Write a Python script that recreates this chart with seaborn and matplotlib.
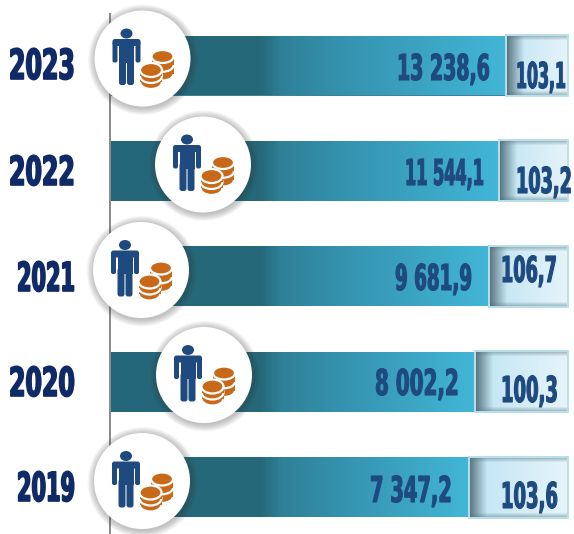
import numpy as np
import pandas as pd
import matplotlib
matplotlib.use("Agg")
import matplotlib.pyplot as plt
import seaborn as sns
from matplotlib.colors import LinearSegmentedColormap, to_rgb
from matplotlib.patches import Circle, Ellipse, Rectangle, FancyBboxPatch
from matplotlib.patheffects import AbstractPathEffect
from matplotlib.transforms import Affine2D

# ---- data ----
years = ["2023", "2022", "2021", "2020", "2019"]
values = ["13 238,6", "11 544,1", "9 681,9", "8 002,2", "7 347,2"]
ratios = ["103,1", "103,2", "106,7", "100,3", "103,6"]
# drawn bar lengths (the source graphic is not to scale with the values)
bar_lengths = [395, 388, 378, 364, 358]

# ---- layout (pixels of the 574x534 canvas) ----
W, H = 574, 534
X0 = 111
BOX_RIGHT = 568
ROW0, ROW_STEP = 65.5, 105.4
year_boxes = [(9, 75, 50, 79), (9, 75, 157, 185), (17, 75, 263, 291), (9, 75, 368, 396), (17, 75, 473, 501)]
value_boxes = [(397, 490, 55, 80), (405, 484, 160, 185), (395, 472, 265, 290), (375, 459, 370, 395), (370, 452, 477, 502)]
ratio_boxes = [(516, 566, 63, 88), (516, 572, 168, 193), (501, 557, 257, 282), (501, 558, 377, 402), (501, 558, 483, 508)]
circles = [(142.5, 58.5), (203, 164.5), (141, 270), (204, 375), (142, 481)]
R = 48
NAVY = "#0f2a66"
BLUE = "#1f4a80"
ORANGE = "#c8691a"

sns.set_theme(style="white")
plt.rcParams["font.family"] = ["Liberation Sans Narrow", "DejaVu Sans"]
fig = plt.figure(figsize=(W / 100, H / 100), dpi=100, facecolor="white")

# main bars through seaborn
ax = fig.add_axes([X0 / W, 0, (W - X0) / W, 1])
df = pd.DataFrame({"year": years, "length": bar_lengths})
bar_h = 60 / ROW_STEP
sns.barplot(data=df, y="year", x="length", order=years, orient="h",
            width=bar_h, color="#2f8aa5", ax=ax, linewidth=0)
ax.set_xlim(0, W - X0)
ax.set_ylim((H - ROW0) / ROW_STEP, -ROW0 / ROW_STEP)
ax.axis("off")

for patch, L in zip(ax.patches, bar_lengths):
    pts = [(0.0, "#25677a"), (150 / L, "#26697a"), (170 / L, "#2f8097"),
           (230 / L, "#3592ae"), (1.0, "#42b6d7")]
    cmap = LinearSegmentedColormap.from_list("g", pts)
    im = ax.imshow(np.linspace(0, 1, 256)[None, :], cmap=cmap, aspect="auto",
                   extent=(0, L, patch.get_y() + patch.get_height(), patch.get_y()), zorder=2)
    im.set_clip_path(patch)
ax.set_xlim(0, W - X0)
ax.set_ylim((H - ROW0) / ROW_STEP, -ROW0 / ROW_STEP)

# overlay in canvas pixels
ov = fig.add_axes([0, 0, 1, 1], facecolor="none", zorder=5)
ov.set_xlim(0, W)
ov.set_ylim(H, 0)
ov.axis("off")

ov.plot([110, 110], [13, H], color="#808080", lw=1.3, zorder=1, solid_capstyle="butt")


def box_image(w, h):
    x = np.linspace(0, 1, w)[None, :, None]
    a, b = np.array(to_rgb("#bfe4f3")), np.array(to_rgb("#e6f4fa"))
    img = (a * (1 - x) + b * x) * np.ones((h, w, 3))
    dark = np.array(to_rgb("#56717c"))
    xs = np.arange(w)[None, :]
    ys = np.arange(h)[:, None]
    left = np.clip(1 - xs / 18.0, 0, 1) ** 1.1
    top = 0.5 * np.clip(1 - ys / 5.0, 0, 1)
    bot = 0.5 * np.clip(1 - (h - 1 - ys) / 5.0, 0, 1)
    k = 1 - (1 - left) * (1 - top) * (1 - bot)
    return img * (1 - k[..., None]) + dark * k[..., None]


for i, L in enumerate(bar_lengths):
    left = X0 + L
    cy = ROW0 + i * ROW_STEP
    t, b = cy - 30.5, cy + 30.5
    ov.imshow(box_image(int(BOX_RIGHT - left), 61), extent=(left, BOX_RIGHT, b, t),
              aspect="auto", zorder=2, interpolation="bilinear")
    ov.add_patch(Rectangle((left, t), BOX_RIGHT - left, b - t, fc="none", ec="#b9e0ea", lw=1.4, zorder=3))
ov.set_xlim(0, W)
ov.set_ylim(H, 0)


def rounded(x, y, w, h, z, r=1.5):
    ov.add_patch(FancyBboxPatch((x + r, y + r), w - 2 * r, h - 2 * r, boxstyle=f"round,pad={r},rounding_size={r}",
                                fc=BLUE, ec="none", zorder=z))


def person(cx, cy, z):
    rounded(cx - 30, cy - 19.5, 28, 7, z, 2.5)      # shoulders
    rounded(cx - 30, cy - 17, 5, 21, z, 2)          # arms
    rounded(cx - 7, cy - 17, 5, 21, z, 2)
    ov.add_patch(Rectangle((cx - 23.5, cy - 19), 15, 23, fc=BLUE, ec="none", zorder=z))  # torso
    rounded(cx - 23.5, cy - 2, 7, 28.5, z, 2.5)     # legs
    rounded(cx - 15.5, cy - 2, 7, 28.5, z, 2.5)
    ov.add_patch(Ellipse((cx - 16, cy - 25), 12, 10, fc=BLUE, ec="none", zorder=z))


def coins(cx, top, bottom, rx, ry, z):
    n = 3
    ys = np.linspace(bottom - ry, top, n)
    for j, y in enumerate(ys):
        if j > 0:
            ov.add_patch(Rectangle((cx - rx, y), 2 * rx, ys[j - 1] - y, fc=ORANGE, ec="none", zorder=z + j * 0.01))
        ov.add_patch(Ellipse((cx, y), 2 * rx, 2 * ry, fc=ORANGE,
                             ec="white", lw=1.6, zorder=z + j * 0.01 + 0.005))


for cx, cy in circles:
    for k in range(9, 0, -1):
        ov.add_patch(Circle((cx + 0.8, cy + 1.2), R + k * 0.8, fc="#303030", ec="none", alpha=0.035, zorder=4))
    ov.add_patch(Circle((cx, cy), R, fc="white", ec="none", zorder=5))
    person(cx, cy, 6)
    coins(cx + 20, cy - 2, cy + 22, 11, 6.5, 6.2)
    coins(cx + 8.5, cy + 11.5, cy + 30.5, 11, 7, 6.5)


class Stretch(AbstractPathEffect):
    """Condensed look: keep the measured width, stretch the glyphs upward from the baseline."""

    def __init__(self, base_px, sy, stroke=0.0):
        super().__init__()
        self.base_px, self.sy, self.stroke = base_px, sy, stroke

    def draw_path(self, renderer, gc, tpath, affine, rgbFace=None):
        tr = affine + Affine2D().translate(0, -self.base_px).scale(1, self.sy).translate(0, self.base_px)
        gc0 = renderer.new_gc()
        gc0.copy_properties(gc)
        gc0.set_linewidth(self.stroke)
        gc0.set_foreground(rgbFace)
        renderer.draw_path(gc0, tpath, tr, rgbFace)
        gc0.restore()


def fit_text(s, box, color, stroke=1.0):
    l, r, t, b = box
    probe = 20.0
    txt = ov.text(l, b, s, color=color, fontsize=probe, fontweight="bold",
                  ha="left", va="baseline", zorder=8)
    rend = fig.canvas.get_renderer()
    size = probe * (r - l) / txt.get_window_extent(rend).width
    txt.set_fontsize(size)
    digit_px = 0.70 * size * 100 / 72
    txt.set_path_effects([Stretch(H - b, (b - t) / digit_px, stroke)])


for i in range(5):
    fit_text(years[i], year_boxes[i], NAVY, 1.2)
    fit_text(values[i], value_boxes[i], BLUE, 0.8)
    fit_text(ratios[i], ratio_boxes[i], BLUE, 0.8)

fig.savefig("out.png", dpi=100, facecolor="white")
